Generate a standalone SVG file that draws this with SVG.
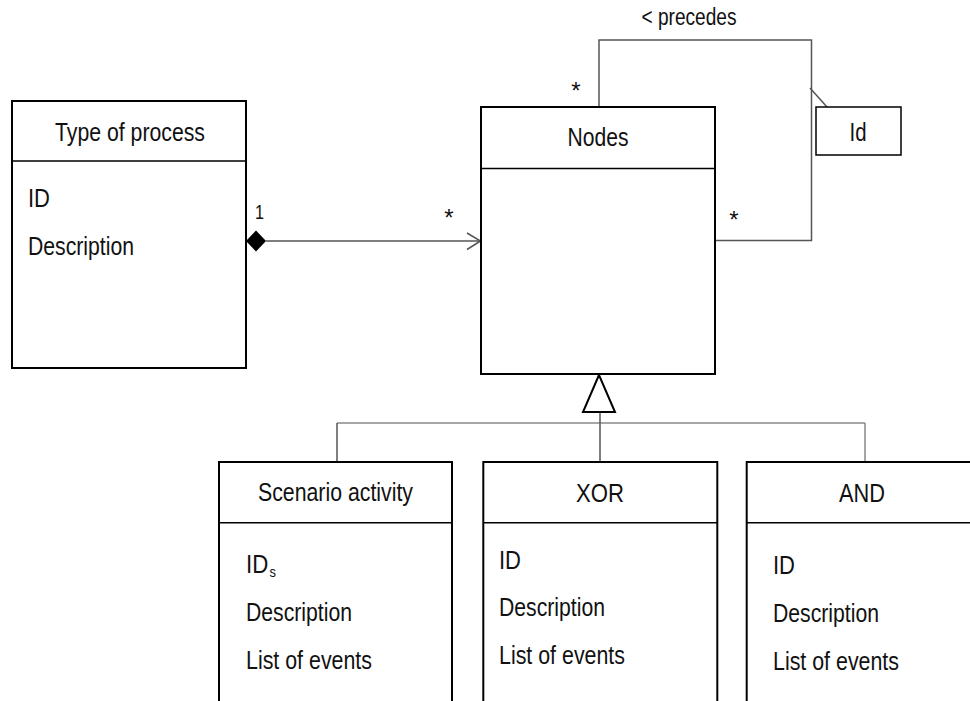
<svg xmlns="http://www.w3.org/2000/svg" width="970" height="701" viewBox="0 0 970 701">
<style>
.box{fill:#fff;stroke:#000;stroke-width:2}
.div{stroke:#000;stroke-width:1.5;fill:none}
.t{font-family:"Liberation Sans",Arial,sans-serif;font-size:26px;fill:#111}
.c{text-anchor:middle}
.sm{font-family:"Liberation Sans",Arial,sans-serif;font-size:21px;fill:#111}
.ast{font-family:"Liberation Sans",Arial,sans-serif;font-size:24px;fill:#111;text-anchor:middle}
.ln{stroke:#555;stroke-width:1.5;fill:none}
.gr{stroke:#888;stroke-width:1.5;fill:none}
</style>
<rect width="970" height="701" fill="#fff"/>
<g id="connectors">
  <line class="ln" x1="266" y1="241" x2="480" y2="241"/>
  <polygon points="246,241 256,230.5 266,241 256,251.5" fill="#000"/>
  <polyline class="ln" points="467,233 480.5,241 467,249.5"/>
  <text class="sm" x="255" y="219" textLength="9" lengthAdjust="spacingAndGlyphs">1</text>
  <text class="ast" x="449" y="226">*</text>
  <polyline class="ln" points="599,107 599,40 811.5,40 811.5,240.5 715,240.5"/>
  <line class="ln" x1="810" y1="88" x2="827" y2="107"/>
  <text class="ast" x="576" y="99">*</text>
  <text class="ast" x="734" y="228">*</text>
  <text class="t c" x="689" y="25" style="font-size:23px" textLength="95" lengthAdjust="spacingAndGlyphs">&lt; precedes</text>
  <line class="gr" x1="337" y1="423" x2="865" y2="423"/>
  <line class="ln" x1="337" y1="423" x2="337" y2="462"/>
  <line class="gr" x1="865" y1="423" x2="865" y2="462"/>
  <line class="ln" x1="600" y1="412" x2="600" y2="462"/>
  <polygon points="599,375 583,412 615,412" fill="#fff" stroke="#000" stroke-width="2"/>
</g>
<g id="type-of-process">
  <rect class="box" x="12" y="101" width="234" height="267"/>
  <line class="div" x1="12" y1="161" x2="246" y2="161"/>
  <text class="t c" x="130" y="141" textLength="150" lengthAdjust="spacingAndGlyphs">Type of process</text>
  <text class="t" x="28" y="207" textLength="22" lengthAdjust="spacingAndGlyphs">ID</text>
  <text class="t" x="28" y="255" textLength="106" lengthAdjust="spacingAndGlyphs">Description</text>
</g>
<g id="nodes">
  <rect class="box" x="481" y="107" width="234" height="267"/>
  <line class="div" x1="481" y1="168.5" x2="715" y2="168.5"/>
  <text class="t c" x="598" y="146" textLength="61" lengthAdjust="spacingAndGlyphs">Nodes</text>
</g>
<g id="id-note">
  <rect x="816" y="107" width="85" height="48" fill="#fff" stroke="#000" stroke-width="1.5"/>
  <text class="t c" x="858" y="141" textLength="17" lengthAdjust="spacingAndGlyphs">Id</text>
</g>
<g id="scenario-activity">
  <rect class="box" x="219" y="462" width="233" height="260"/>
  <line class="div" x1="219" y1="522.7" x2="452" y2="522.7"/>
  <text class="t c" x="335.5" y="501" textLength="155" lengthAdjust="spacingAndGlyphs">Scenario  activity</text>
  <text class="t" x="246" y="573" textLength="30" lengthAdjust="spacingAndGlyphs">ID<tspan style="font-size:15px" dx="1.5" dy="4">s</tspan></text>
  <text class="t" x="246" y="620.5" textLength="106" lengthAdjust="spacingAndGlyphs">Description</text>
  <text class="t" x="246" y="668.5" textLength="126" lengthAdjust="spacingAndGlyphs">List of events</text>
</g>
<g id="xor">
  <rect class="box" x="483.3" y="462" width="234" height="260"/>
  <line class="div" x1="483.3" y1="522.7" x2="717.3" y2="522.7"/>
  <text class="t c" x="600" y="502" textLength="48" lengthAdjust="spacingAndGlyphs">XOR</text>
  <text class="t" x="499" y="568.5" textLength="22" lengthAdjust="spacingAndGlyphs">ID</text>
  <text class="t" x="499" y="616" textLength="106" lengthAdjust="spacingAndGlyphs">Description</text>
  <text class="t" x="499" y="663.5" textLength="126" lengthAdjust="spacingAndGlyphs">List of events</text>
</g>
<g id="and">
  <rect class="box" x="746.7" y="462" width="234" height="260"/>
  <line class="div" x1="746.7" y1="522.7" x2="980" y2="522.7"/>
  <text class="t c" x="862" y="502" textLength="46" lengthAdjust="spacingAndGlyphs">AND</text>
  <text class="t" x="773" y="574" textLength="22" lengthAdjust="spacingAndGlyphs">ID</text>
  <text class="t" x="773" y="622.3" textLength="106" lengthAdjust="spacingAndGlyphs">Description</text>
  <text class="t" x="773" y="670" textLength="126" lengthAdjust="spacingAndGlyphs">List of events</text>
</g>
</svg>
